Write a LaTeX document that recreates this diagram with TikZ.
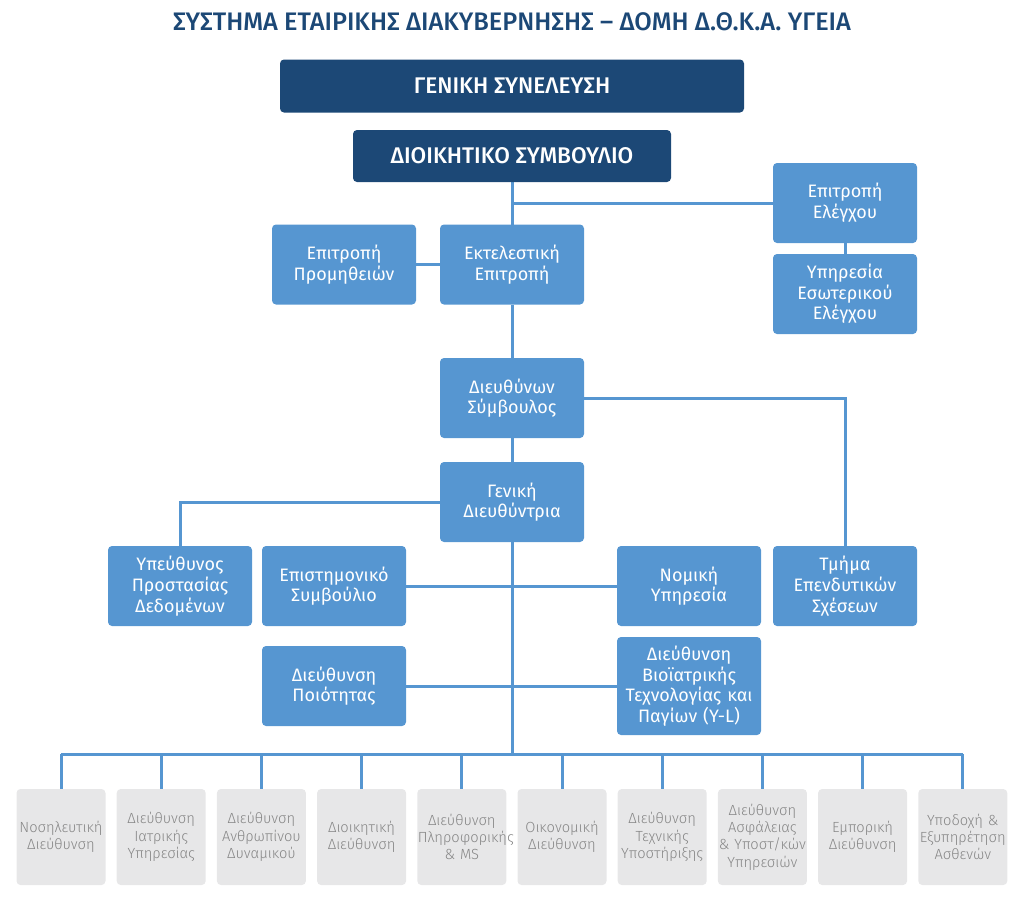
\documentclass[tikz,border=0pt]{standalone}
\usepackage{fontspec}
\setmainfont{Fira Sans}
\newfontfamily\lightfont{Fira Sans Light}
\newfontfamily\medfont{Fira Sans Medium}
\usepackage{xcolor}
\usetikzlibrary{positioning}
\definecolor{darkblue}{HTML}{1C4876}
\definecolor{midblue}{HTML}{5696D1}
\definecolor{lightgray}{HTML}{E7E7E8}
\definecolor{textgray}{HTML}{868686}
\pgfdeclarelayer{background}
\pgfsetlayers{background,main}

\tikzset{
  topbox/.style={fill=darkblue, rounded corners=3pt, text=white, inner sep=0pt,
    font=\medfont\fontsize{17}{20}\selectfont},
  unit/.style={fill=midblue, rounded corners=3pt, text=white, align=center,
    minimum width=108pt, minimum height=60pt, text width=104pt, inner sep=0pt,
    outer sep=0pt, font=\fontsize{13.5}{15.5}\selectfont},
  dept/.style={fill=lightgray, rounded corners=3pt, text=textgray, align=center,
    minimum width=66.75pt, minimum height=72pt, text width=66pt, inner sep=0pt,
    outer sep=0pt, font=\lightfont\fontsize{11}{13}\selectfont},
  link/.style={draw=midblue, line width=2.25pt}
}

\begin{document}
\begin{tikzpicture}[x=0.75pt, y=-0.75pt]
\useasboundingbox (0,0) rectangle (1024,901);

\node[text=darkblue, font=\medfont\fontsize{19}{22}\selectfont] (title) at (512,22)
  {ΣΥΣΤΗΜΑ ΕΤΑΙΡΙΚΗΣ ΔΙΑΚΥΒΕΡΝΗΣΗΣ – ΔΟΜΗ Δ.Θ.Κ.Α. ΥΓΕΙΑ};

% board levels
\node[topbox, minimum width=348pt, minimum height=39.75pt] (gs) at (512,86) {ΓΕΝΙΚΗ ΣΥΝΕΛΕΥΣΗ};
\node[topbox, minimum width=238.5pt, minimum height=39pt] (ds) at (512,156) {ΔΙΟΙΚΗΤΙΚΟ ΣΥΜΒΟΥΛΙΟ};

% committees
\node[unit] (elegxos) at (845,203) {Επιτροπή\\Ελέγχου};
\node[unit, below=8.25pt of elegxos] (esweleg) {Υπηρεσία\\Εσωτερικού\\Ελέγχου};
\node[unit] (ektel) at (512,264.5) {Εκτελεστική\\Επιτροπή};
\node[unit, left=18pt of ektel] (promith) {Επιτροπή\\Προμηθειών};

% management
\node[unit] (ceo) at (512,398) {Διευθύνων\\Σύμβουλος};
\node[unit] (gd) at (512,502) {Γενική\\Διευθύντρια};

\node[unit] (dpo) at (180,586) {Υπεύθυνος\\Προστασίας\\Δεδομένων};
\node[unit] (epist) at (334,586) {Επιστημονικό\\Συμβούλιο};
\node[unit] (nomiki) at (689,586) {Νομική\\Υπηρεσία};
\node[unit] (ependyt) at (845,586) {Τμήμα\\Επενδυτικών\\Σχέσεων};
\node[unit] (poiot) at (334,686) {Διεύθυνση\\Ποιότητας};
\node[unit, minimum height=73.5pt] (bioiatr) at (689,686) {Διεύθυνση\\Βιοϊατρικής\\Τεχνολογίας και\\Παγίων (Y-L)};

% directorates
\node[dept] (u1) at (61,837) {Νοσηλευτική\\Διεύθυνση};
\node[dept, right=8.4pt of u1] (u2) {Διεύθυνση\\Ιατρικής\\Υπηρεσίας};
\node[dept, right=8.4pt of u2] (u3) {Διεύθυνση\\Ανθρωπίνου\\Δυναμικού};
\node[dept, right=8.4pt of u3] (u4) {Διοικητική\\Διεύθυνση};
\node[dept, right=8.4pt of u4] (u5) {Διεύθυνση\\Πληροφορικής\\\& MS};
\node[dept, right=8.4pt of u5] (u6) {Οικονομική\\Διεύθυνση};
\node[dept, right=8.4pt of u6] (u7) {Διεύθυνση\\Τεχνικής\\Υποστήριξης};
\node[dept, right=8.4pt of u7] (u8) {Διεύθυνση\\Ασφάλειας\\\& Υποστ/κών\\Υπηρεσιών};
\node[dept, right=8.4pt of u8] (u9) {Εμπορική\\Διεύθυνση};
\node[dept, right=8.4pt of u9] (u10) {Υποδοχή \&\\Εξυπηρέτηση\\Ασθενών};

\coordinate (bus) at (512,754);

\begin{pgfonlayer}{background}
    % main spine
    \draw[link] (ds.south) -- (ektel.north);
    \draw[link] (ektel.south) -- (ceo.north);
    \draw[link] (ceo.south) -- (gd.north);
    \draw[link] (gd.south) -- (bus);
    % side branches
    \draw[link] (ds.south |- elegxos.west) -- (elegxos.west);
    \draw[link] (elegxos.south) -- (esweleg.north);
    \draw[link] (promith.east) -- (ektel.west);
    \draw[link] (ceo.east) -| (ependyt.north);
    \draw[link] (gd.west) -| (dpo.north);
    \draw[link] (epist.east) -- (nomiki.west);
    \draw[link] (poiot.east) -- (bioiatr.west);
    % bus to directorates
    \draw[link] (u1.north |- bus) -- (u10.north |- bus);
    \draw[link] (u1.north) -- (u1.north |- bus);
    \draw[link] (u2.north) -- (u2.north |- bus);
    \draw[link] (u3.north) -- (u3.north |- bus);
    \draw[link] (u4.north) -- (u4.north |- bus);
    \draw[link] (u5.north) -- (u5.north |- bus);
    \draw[link] (u6.north) -- (u6.north |- bus);
    \draw[link] (u7.north) -- (u7.north |- bus);
    \draw[link] (u8.north) -- (u8.north |- bus);
    \draw[link] (u9.north) -- (u9.north |- bus);
    \draw[link] (u10.north) -- (u10.north |- bus);
\end{pgfonlayer}

\end{tikzpicture}
\end{document}
